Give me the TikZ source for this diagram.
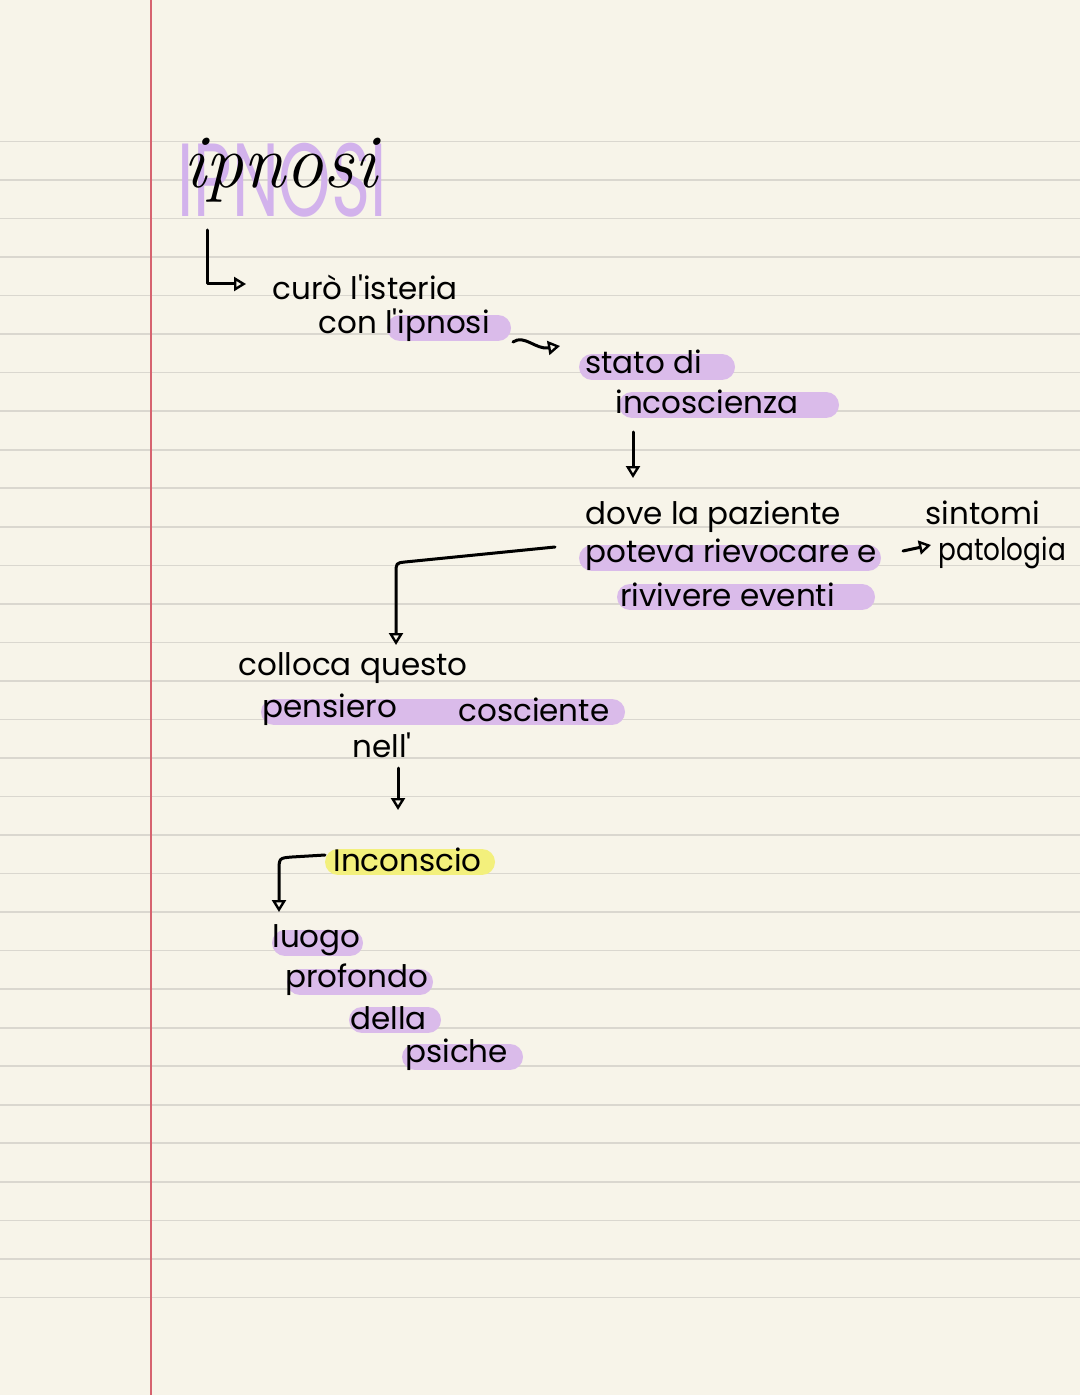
\documentclass[tikz,border=0pt]{standalone}
\usepackage{fontspec}
\newfontfamily\hand{Poppins}
\usetikzlibrary{arrows.meta}
\definecolor{paper}{HTML}{F7F4E9}
\definecolor{ruleclr}{HTML}{DAD7CF}
\definecolor{marginclr}{HTML}{D6636F}
\definecolor{lav}{HTML}{DABBEA}
\definecolor{lavtitle}{HTML}{D2B2EC}
\definecolor{hlyellow}{HTML}{F3F07C}
\begin{document}
\begin{tikzpicture}[x=0.5pt,y=-0.5pt,
  txt/.style={font=\hand\fontsize{15.5}{18}\selectfont, inner sep=0pt, anchor=west, text=black},
  hl/.style={line width=13pt, line cap=round, draw=lav},
  hly/.style={line width=13pt, line cap=round, draw=hlyellow},
  ruleline/.style={draw=ruleclr, line width=0.8pt},
  marginline/.style={draw=marginclr, line width=1pt},
  conn/.style={line width=1.5pt, line cap=round, line join=round,
    -{Triangle[open,length=6pt,width=7pt,line width=1.2pt]}},
]
% paper
\fill[paper] (0,0) rectangle (1080,1395);
\useasboundingbox (0,0) rectangle (1080,1395);
\foreach \k in {0,...,30}{
  \pgfmathsetmacro\yy{141.5+38.53*\k}
  \draw[ruleline] (0,\yy) -- (1080,\yy);
}
\draw[marginline] (151,0) -- (151,1395);

% highlights
\draw[hl] (400,328) -- (498,328);
\draw[hl] (592,367) -- (722,367);
\draw[hl] (632,405) -- (826,405);
\draw[hl] (592,558) -- (868,558);
\draw[hl] (630,597) -- (862,597);
\draw[hl] (274,712) -- (612,712);
\draw[hly] (338,862) -- (482,862);
\draw[hl] (285,943) -- (350,943);
\draw[hl] (300,982) -- (420,982);
\draw[hl] (362,1020) -- (428,1020);
\draw[hl] (415,1057) -- (510,1057);

% title
\node[inner sep=0pt, text=lavtitle] (ttlbg) at (282,180)
  {\scalebox{0.64}[1]{\hand\fontsize{52}{52}\selectfont IPNOSI}};
\node[inner sep=0pt, font=\itshape\fontsize{38}{38}\selectfont] (ttl) at (280,170) {ipnosi};

% texts
\node[txt] (curo) at (272,287) {curò l'isteria};
\node[txt] (con) at (318,325) {con l'ipnosi};
\node[txt] (stato) at (585,362) {stato di};
\node[txt] (incosc) at (615,402) {incoscienza};
\node[txt] (dove) at (585,517) {dove la paziente};
\node[txt] (poteva) at (585,555) {poteva rievocare e};
\node[txt] (rivivere) at (620,595) {rivivere eventi};
\node[txt] (sintomi) at (925,513) {sintomi};
\node[txt] (pat) at (938,553) {\scalebox{0.85}[1]{patologia}};
\node[txt] (colloca) at (238,668) {colloca questo};
\node[txt] (pens) at (262,710) {pensiero};
\node[txt] (cosc) at (458,710) {cosciente};
\node[txt] (nell) at (352,745) {nell'};
\node[txt] (incons) at (333,860) {Inconscio};
\node[txt] (luogo) at (272,940) {luogo};
\node[txt] (prof) at (285,980) {profondo};
\node[txt] (della) at (350,1018) {della};
\node[txt] (psiche) at (405,1055) {psiche};

% connectors
\coordinate (c1) at (207,230);
\coordinate (c1e) at (246,284);
\draw[conn] (c1) |- (c1e);

\coordinate (c2s) at (513,342);
\coordinate (c2e) at (560,346);
\draw[conn] (c2s) .. controls (524,334) and (536,350) .. (c2e);

\coordinate (c3s) at (633,432);
\coordinate (c3e) at (633,478);
\draw[conn] (c3s) -- (c3e);

\coordinate (c4s) at (903,551);
\coordinate (c4e) at (931,545);
\draw[conn] (c4s) -- (c4e);

\coordinate (c5s) at (555,547);
\coordinate (c5e) at (396,645);
\draw[conn] (c5s) -- (405,562) .. controls (396,563) .. (396,574) -- (c5e);

\coordinate (c6s) at (398,768);
\coordinate (c6e) at (398,810);
\draw[conn] (c6s) -- (c6e);

\coordinate (c7s) at (325,855);
\coordinate (c7e) at (279,912);
\draw[conn] (c7s) -- (292,857) .. controls (279,858) .. (279,872) -- (c7e);
\end{tikzpicture}
\end{document}
